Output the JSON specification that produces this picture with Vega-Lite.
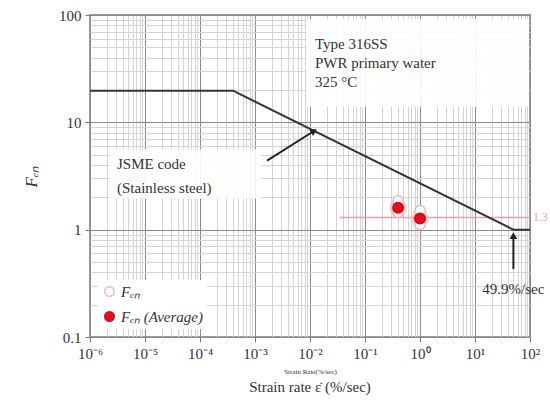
{
  "$schema": "https://vega.github.io/schema/vega-lite/v6.json",
  "width": 440,
  "height": 322,
  "autosize": {"type": "none"},
  "padding": {"left": 90, "top": 15, "right": 20, "bottom": 82},
  "background": "white",
  "config": {
    "view": {"stroke": "#9a9a9a", "strokeWidth": 2},
    "font": "Liberation Serif",
    "axis": {"labelFont": "Liberation Serif", "titleFont": "Liberation Serif", "labelColor": "#333", "titleColor": "#333"}
  },
  "title": {"text": "Strain rate  ε̇  (%/sec)", "orient": "bottom", "font": "Liberation Serif", "fontSize": 15, "fontWeight": "normal", "color": "#333", "offset": 6},
  "datasets": {
    "jsme": [
      {"x": 0.000001, "f": 19.7},
      {"x": 0.0004, "f": 19.7},
      {"x": 49.9, "f": 1},
      {"x": 100, "f": 1}
    ],
    "pts": [
      {"x": 0.4, "f": 1.85, "s": "Fₑₙ"},
      {"x": 0.4, "f": 1.45, "s": "Fₑₙ"},
      {"x": 1.0, "f": 1.5, "s": "Fₑₙ"},
      {"x": 1.0, "f": 1.12, "s": "Fₑₙ"},
      {"x": 0.4, "f": 1.6, "s": "Fₑₙ (Average)"},
      {"x": 1.0, "f": 1.27, "s": "Fₑₙ (Average)"}
    ],
    "boxes": [
      {"x": 0.0085, "x2": 95, "f": 92, "f2": 14},
      {"x": 0.0000023, "x2": 0.0013, "f": 5.6, "f2": 1.95}
    ],
    "texts": [
      {"x": 0.0123, "f": 54, "t": "Type 316SS"},
      {"x": 0.0123, "f": 36, "t": "PWR primary water"},
      {"x": 0.0123, "f": 23.7, "t": "325 °C"},
      {"x": 0.0000031, "f": 4.1, "t": "JSME code"},
      {"x": 0.0000031, "f": 2.45, "t": "(Stainless steel)"}
    ],
    "ctexts": [
      {"x": 49.9, "f": 0.28, "t": "49.9%/sec"}
    ],
    "arrows": [
      {"x": 0.00166, "f": 4.4, "x2": 0.0118, "f2": 8.3, "ang": 58},
      {"x": 49.9, "f": 0.43, "x2": 49.9, "f2": 0.88, "ang": 0}
    ],
    "avg": [
      {"x": 0.035, "x2": 100, "f": 1.3, "t": "1.3"}
    ]
  },
  "layer": [
    {
      "data": {"name": "boxes"},
      "mark": {"type": "rect", "fill": "white", "opacity": 0.9},
      "encoding": {
        "x": {"field": "x", "type": "quantitative", "scale": {"type": "log", "domain": [0.000001, 100], "nice": false},
          "axis": {
            "values": [0.000001,0.000002,0.000003,0.000004,0.000005,0.000006,0.000007,0.000008,0.000009,0.00001,0.00002,0.00003,0.00004,0.00005,0.00006,0.00007,0.00008,0.00009,0.0001,0.0002,0.0003,0.0004,0.0005,0.0006,0.0007,0.0008,0.0009,0.001,0.002,0.003,0.004,0.005,0.006,0.007,0.008,0.009,0.01,0.02,0.03,0.04,0.05,0.06,0.07,0.08,0.09,0.1,0.2,0.3,0.4,0.5,0.6,0.7,0.8,0.9,1,2,3,4,5,6,7,8,9,10,20,30,40,50,60,70,80,90,100],
            "labelExpr": "abs(log(datum.value)/LN10 - round(log(datum.value)/LN10)) < 0.001 ? '10' + ['⁻⁶','⁻⁵','⁻⁴','⁻³','⁻²','⁻¹','⁰','¹','²'][round(log(datum.value)/LN10)+6] : ''",
            "labelOverlap": false,
            "labelFlush": false,
            "labelFontSize": 15,
            "labelPadding": 4,
            "domain": false,
            "grid": true,
            "gridColor": {"condition": {"test": "abs(log(datum.value)/LN10 - round(log(datum.value)/LN10)) < 0.001", "value": "#8a8a8a"}, "value": "#d4d4d4"},
            "tickColor": {"condition": {"test": "abs(log(datum.value)/LN10 - round(log(datum.value)/LN10)) < 0.001", "value": "#777"}, "value": "transparent"},
            "tickSize": 5,
            "title": "Strain Rate(%/sec)",
            "titleFontSize": 7,
            "titleFontWeight": "normal",
            "titlePadding": 6
          }
        },
        "x2": {"field": "x2"},
        "y": {"field": "f", "type": "quantitative", "scale": {"type": "log", "domain": [0.1, 100], "nice": false},
          "axis": {
            "values": [0.1,0.2,0.3,0.4,0.5,0.6,0.7,0.8,0.9,1,2,3,4,5,6,7,8,9,10,20,30,40,50,60,70,80,90,100],
            "labelExpr": "abs(log(datum.value)/LN10 - round(log(datum.value)/LN10)) < 0.001 ? '' + datum.value : ''",
            "labelOverlap": false,
            "labelFlush": false,
            "labelFontSize": 15,
            "labelPadding": 4,
            "domain": false,
            "grid": true,
            "gridColor": {"condition": {"test": "abs(log(datum.value)/LN10 - round(log(datum.value)/LN10)) < 0.001", "value": "#8a8a8a"}, "value": "#d4d4d4"},
            "tickColor": {"condition": {"test": "abs(log(datum.value)/LN10 - round(log(datum.value)/LN10)) < 0.001", "value": "#777"}, "value": "transparent"},
            "tickSize": 5,
            "title": "Fₑₙ",
            "titleFontSize": 17,
            "titleFontStyle": "italic",
            "titleFontWeight": "normal",
            "titlePadding": 18
          }
        },
        "y2": {"field": "f2"}
      }
    },
    {
      "data": {"name": "avg"},
      "mark": {"type": "rule", "color": "#e8a0a8", "strokeWidth": 1.5},
      "encoding": {
        "x": {"field": "x", "type": "quantitative"},
        "x2": {"field": "x2"},
        "y": {"field": "f", "type": "quantitative"}
      }
    },
    {
      "data": {"name": "avg"},
      "mark": {"type": "text", "color": "#e8a0a8", "align": "left", "dx": 3, "fontSize": 12, "font": "Liberation Serif"},
      "encoding": {
        "x": {"field": "x2", "type": "quantitative"},
        "y": {"field": "f", "type": "quantitative"},
        "text": {"field": "t"}
      }
    },
    {
      "data": {"name": "jsme"},
      "mark": {"type": "line", "color": "#333", "strokeWidth": 2},
      "encoding": {
        "x": {"field": "x", "type": "quantitative"},
        "y": {"field": "f", "type": "quantitative"}
      }
    },
    {
      "data": {"name": "arrows"},
      "mark": {"type": "rule", "color": "#222", "strokeWidth": 2},
      "encoding": {
        "x": {"field": "x", "type": "quantitative"},
        "y": {"field": "f", "type": "quantitative"},
        "x2": {"field": "x2"},
        "y2": {"field": "f2"}
      }
    },
    {
      "data": {"name": "arrows"},
      "mark": {"type": "point", "shape": "triangle-up", "filled": true, "color": "#222", "size": 60, "opacity": 1},
      "encoding": {
        "x": {"field": "x2", "type": "quantitative"},
        "y": {"field": "f2", "type": "quantitative"},
        "angle": {"field": "ang", "type": "quantitative", "scale": null}
      }
    },
    {
      "data": {"name": "texts"},
      "mark": {"type": "text", "fontSize": 15, "font": "Liberation Serif", "color": "#333", "baseline": "middle", "align": "left"},
      "encoding": {
        "x": {"field": "x", "type": "quantitative"},
        "y": {"field": "f", "type": "quantitative"},
        "text": {"field": "t"}
      }
    },
    {
      "data": {"name": "ctexts"},
      "mark": {"type": "text", "fontSize": 15, "font": "Liberation Serif", "color": "#333", "baseline": "middle", "align": "center"},
      "encoding": {
        "x": {"field": "x", "type": "quantitative"},
        "y": {"field": "f", "type": "quantitative"},
        "text": {"field": "t"}
      }
    },
    {
      "data": {"name": "pts"},
      "transform": [{"filter": "datum.s == 'Fₑₙ (Average)'"}],
      "mark": {"type": "circle", "color": "#f5b5b8", "size": 320, "opacity": 0.6},
      "encoding": {
        "x": {"field": "x", "type": "quantitative"},
        "y": {"field": "f", "type": "quantitative"}
      }
    },
    {
      "data": {"name": "pts"},
      "mark": {"type": "point", "shape": "circle", "filled": true, "size": 110, "strokeWidth": 1.5, "opacity": 1},
      "encoding": {
        "x": {"field": "x", "type": "quantitative"},
        "y": {"field": "f", "type": "quantitative"},
        "fill": {"field": "s", "type": "nominal", "scale": {"domain": ["Fₑₙ", "Fₑₙ (Average)"], "range": ["white", "#e0101e"]},
          "legend": {"title": null, "orient": "bottom-left", "offset": 8, "labelFont": "Liberation Serif", "labelFontSize": 15, "labelFontStyle": "italic", "labelColor": "#333", "symbolSize": 90, "symbolStrokeWidth": 1.5, "rowPadding": 8, "fillColor": "white", "padding": 4}},
        "stroke": {"field": "s", "type": "nominal", "scale": {"domain": ["Fₑₙ", "Fₑₙ (Average)"], "range": ["#f0b4b8", "#d00818"]}, "legend": {"title": null, "orient": "bottom-left"}}
      }
    }
  ]
}
